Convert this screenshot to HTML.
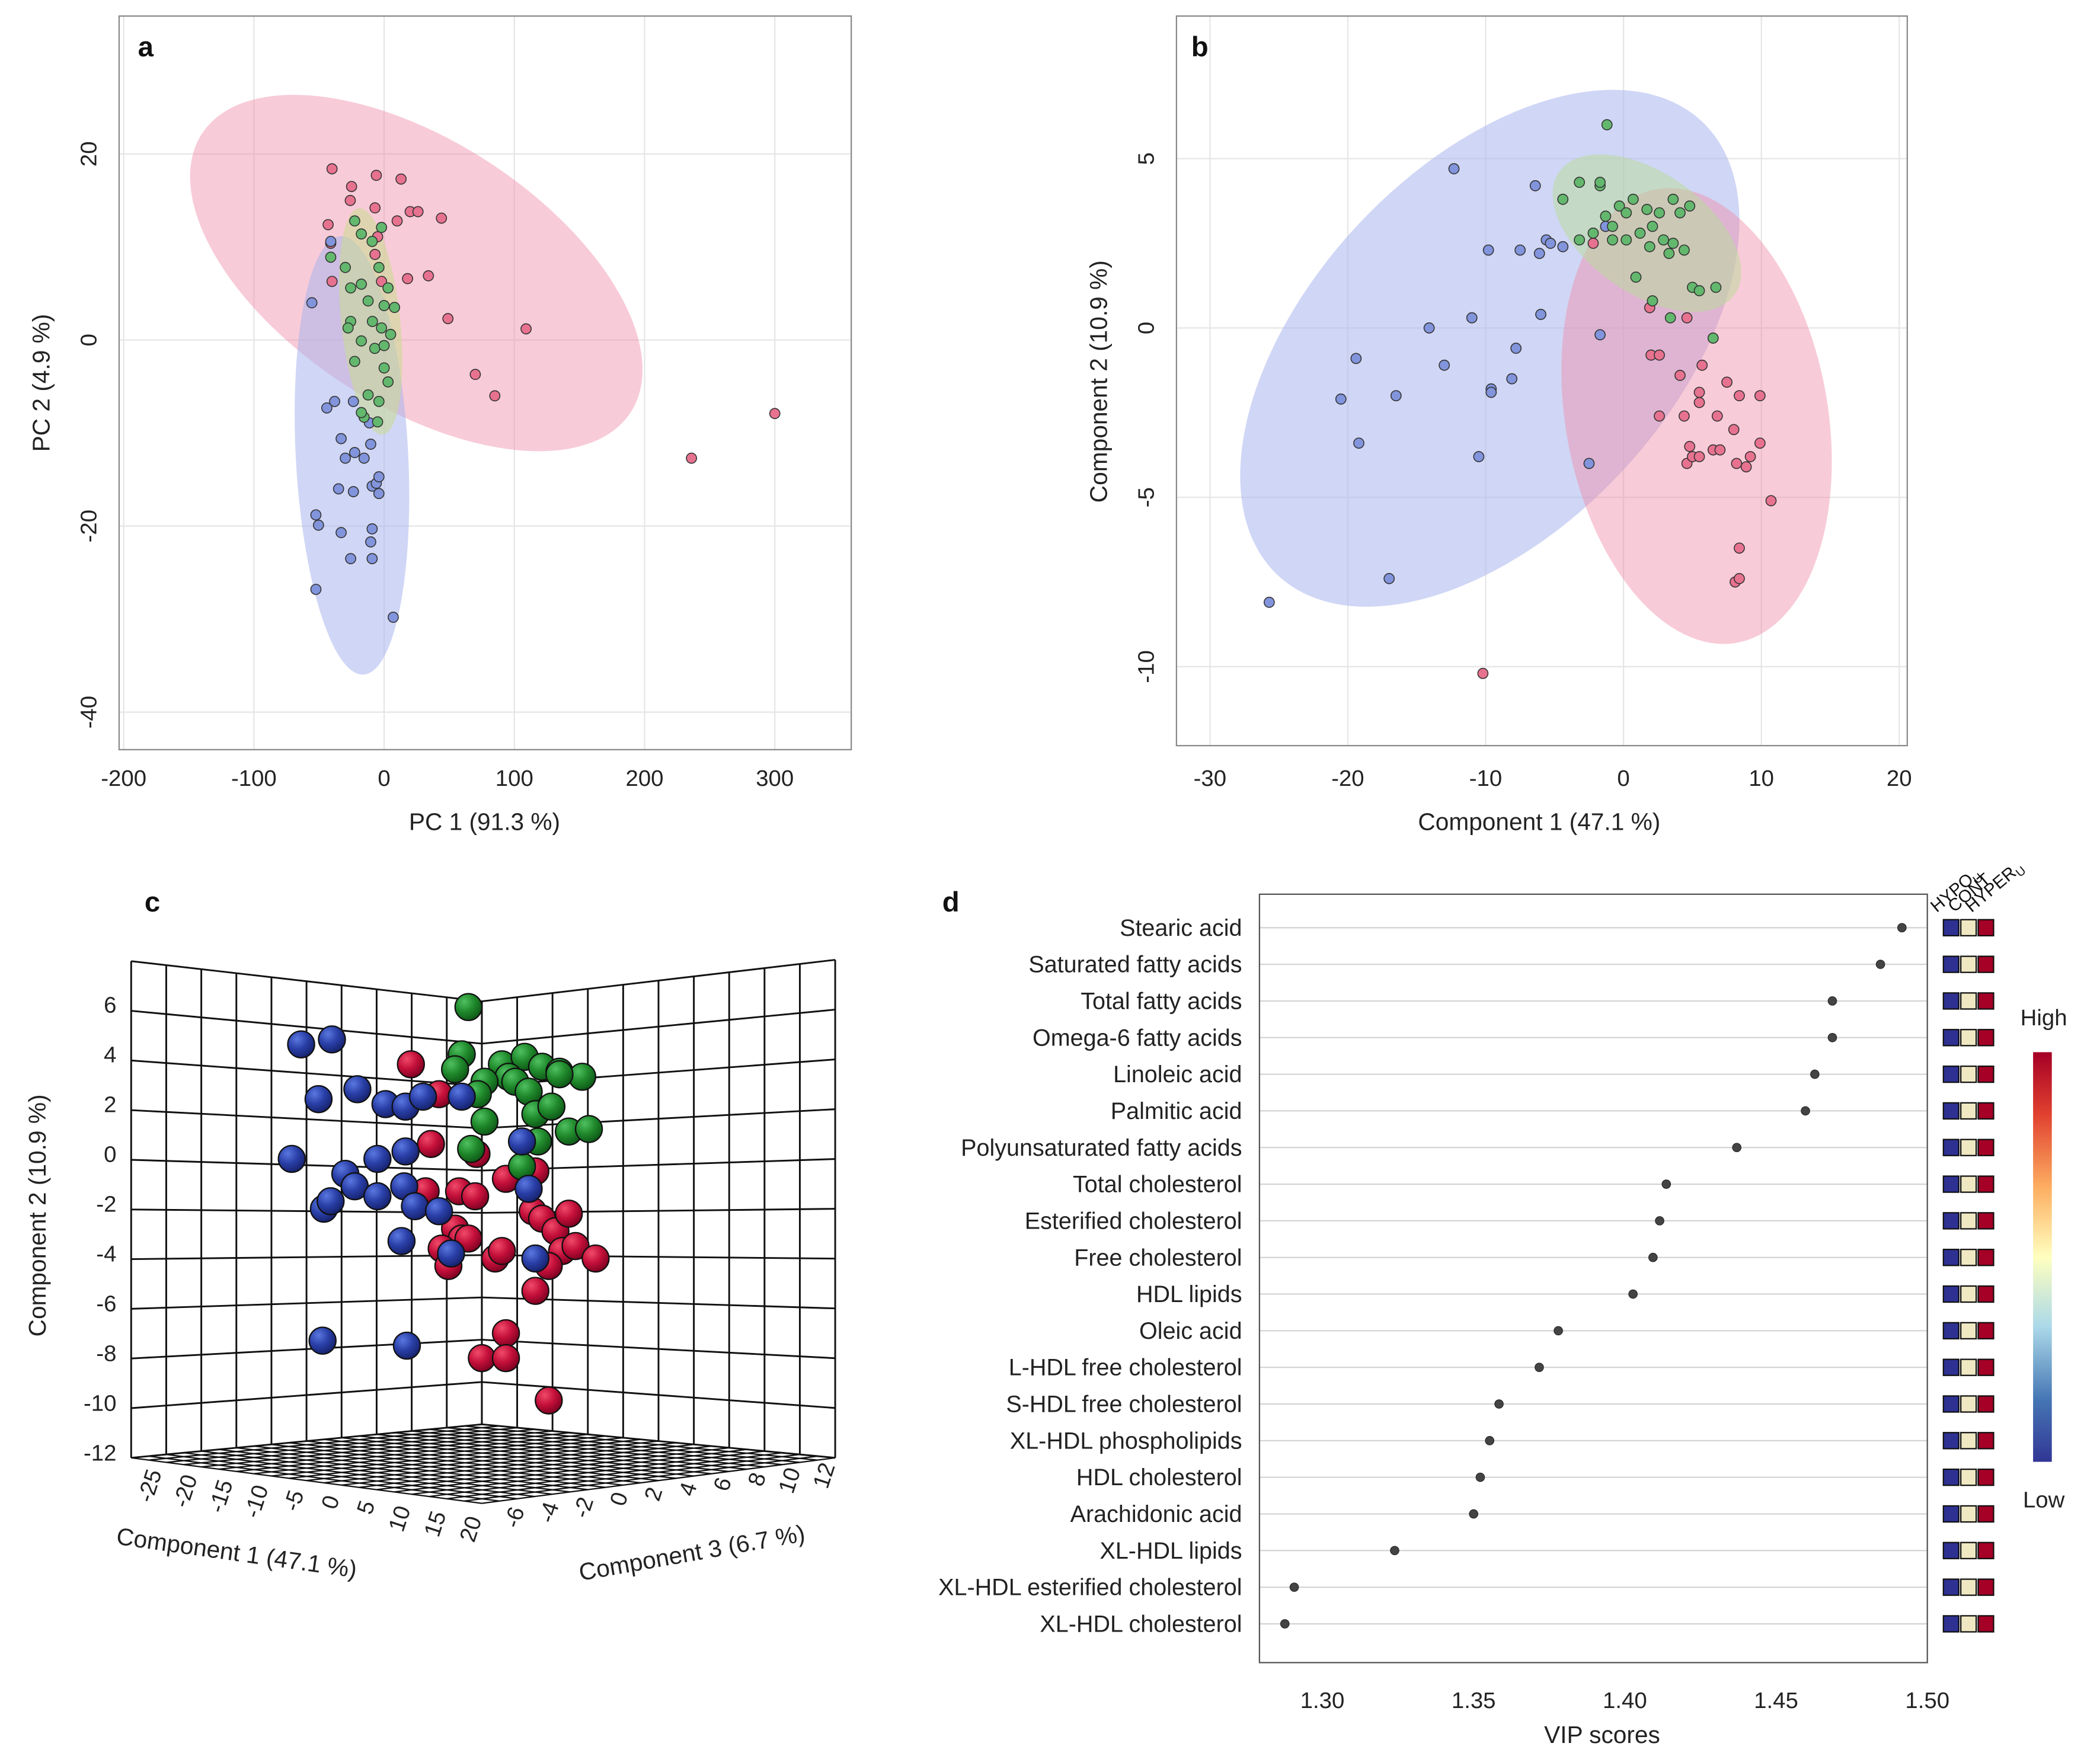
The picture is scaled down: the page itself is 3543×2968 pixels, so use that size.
<!DOCTYPE html>
<html><head><meta charset="utf-8">
<style>
html,body{margin:0;padding:0;background:#fff;}
svg{display:block;font-family:"Liberation Sans",Arial,sans-serif;}
</style></head>
<body>
<svg id="fig" xmlns="http://www.w3.org/2000/svg" width="3543" height="2968" viewBox="0 0 1569 1314" preserveAspectRatio="none">
<defs>
<radialGradient id="gRed" cx="0.35" cy="0.3" r="0.75"><stop offset="0" stop-color="#f04a6a"/><stop offset="0.5" stop-color="#c4103a"/><stop offset="1" stop-color="#7a0020"/></radialGradient>
<radialGradient id="gGreen" cx="0.35" cy="0.3" r="0.75"><stop offset="0" stop-color="#4fc060"/><stop offset="0.5" stop-color="#208a2c"/><stop offset="1" stop-color="#0d5516"/></radialGradient>
<radialGradient id="gBlue" cx="0.35" cy="0.3" r="0.75"><stop offset="0" stop-color="#5a78e0"/><stop offset="0.5" stop-color="#2a40a8"/><stop offset="1" stop-color="#15206a"/></radialGradient>
<linearGradient id="cbar" x1="0" y1="0" x2="0" y2="1">
<stop offset="0" stop-color="#a50026"/><stop offset="0.15" stop-color="#e0402f"/><stop offset="0.33" stop-color="#fdae61"/><stop offset="0.5" stop-color="#ffffbf"/><stop offset="0.67" stop-color="#abd9e9"/><stop offset="0.85" stop-color="#4575b4"/><stop offset="1" stop-color="#313695"/>
</linearGradient>
</defs>
<g id="pa"></g>
<g id="pb"></g>
<g id="pc"></g>
<g id="pd"></g>
</svg>
<script>
// ---------- Panel a data (PCA) ----------
const aPinkX=[-40,-6,13,-25,20,26,44,-7,-26,-43,-5,-7,-41,-40,-2,18,34,49,109,70,85,300,236,10];
const aPinkY=[18.4,17.7,17.3,16.5,13.8,13.8,13.1,14.2,15,12.4,11.1,9.2,10.4,6.3,6.3,6.6,6.9,2.3,1.2,-3.7,-6,-7.9,-12.7,12.8];
const aGreenX=[-22.6,-17.5,-9.2,-2,-41,-25.7,-17.5,-4,3,0,-12.3,-25.7,-27.7,-2,5,-17.5,-7.2,-22.6,0,3,-12.3,-15.4,-4,-5,-17.5,-29.8,8,0,-9];
const aGreenY=[12.8,11.4,10.6,12.1,8.9,5.6,6.0,7.8,5.6,3.7,4.2,2.0,1.3,1.3,0.6,-0.1,-0.9,-2.3,-3.0,-4.5,-5.9,-8.3,-6.6,-8.8,-7.8,7.8,3.5,-0.6,2.0];
const aBlueX=[-55.5,-41,-44,-38,-23.6,-33,-11.3,-22.6,-29.8,-15.4,-10.3,-9.2,-35,-23.6,-6,-4,-52.4,-50.4,-33,-9.2,-10.3,-25.7,-9.2,-52.4,7,-4];
const aBlueY=[4.0,10.6,-7.3,-6.6,-6.6,-10.6,-8.9,-12.1,-12.7,-12.7,-11.2,-15.7,-16,-16.3,-15.4,-16.5,-18.8,-19.9,-20.7,-20.3,-21.7,-23.5,-23.5,-26.8,-29.8,-14.7];
const aXTicks=[-200,-100,0,100,200,300];
const aYTicks=[20,0,-20,-40];
// ---------- Panel b data (PLS-DA) ----------
const bBlueX=[-25.7,-19.4,-20.5,-19.2,-16.5,-17.0,-14.1,-13.0,-11.0,-10.5,-9.6,-9.6,-8.1,-7.8,-9.8,-12.3,-6.4,-7.5,-6.1,-5.6,-5.3,-2.5,-1.7,-6.0,-4.4,-1.3];
const bBlueY=[-8.1,-0.9,-2.1,-3.4,-2.0,-7.4,0.0,-1.1,0.3,-3.8,-1.8,-1.9,-1.5,-0.6,2.3,4.7,4.2,2.3,2.2,2.6,2.5,-4.0,-0.2,0.4,2.4,3.0];
const bRedX=[-10.2,2.0,2.6,4.1,4.4,4.8,5.5,5.5,7.5,8.4,9.9,4.6,5.0,5.5,6.5,7.0,8.2,8.9,9.2,9.9,10.7,6.8,8.0,8.4,8.1,8.4,1.9,4.6,-2.2,5.7,2.6];
const bRedY=[-10.2,-0.8,-2.6,-1.4,-2.6,-3.5,-2.2,-1.9,-1.6,-2.0,-2.0,-4.0,-3.8,-3.8,-3.6,-3.6,-4.0,-4.1,-3.8,-3.4,-5.1,-2.6,-3.0,-6.5,-7.5,-7.4,0.6,0.3,2.5,-1.1,-0.8];
const bGreenX=[-1.2,-3.2,-1.7,-1.7,-4.4,-0.3,0.2,0.7,1.7,2.6,3.6,4.1,4.8,-1.3,-0.8,1.2,2.1,2.9,3.6,4.4,3.3,1.9,0.2,-0.8,0.9,-2.2,-3.2,2.1,3.4,5.0,6.7,6.5,5.5];
const bGreenY=[6.0,4.3,4.2,4.3,3.8,3.6,3.4,3.8,3.5,3.4,3.8,3.4,3.6,3.3,3.0,2.8,3.0,2.6,2.5,2.3,2.2,2.4,2.6,2.6,1.5,2.8,2.6,0.8,0.3,1.2,1.2,-0.3,1.1];
const bXTicks=[-30,-20,-10,0,10,20];
const bYTicks=[5,0,-5,-10];
// ---------- Panel c data (3D scores, projected) ----------
const cRedX=[-5.3,-3.2,-3.8,-0.4,-4.2,-1.7,1.8,4.0,-0.5,-2.0,-1.5,-3.0,-2.5,1.0,1.5,3.8,4.5,5.5,6.5,6.0,7.0,8.5,5.0,4.0,1.8,0.0,1.8,5.0,-1.0];
const cRedY=[3.6,2.4,0.4,0.0,-1.5,-1.5,-1.0,-0.7,-1.7,-3.0,-3.4,-3.8,-4.5,-4.2,-3.9,-2.3,-2.6,-3.1,-2.4,-3.9,-3.7,-4.2,-4.5,-5.5,-7.2,-8.2,-8.2,-9.9,-3.4];
const cGreenX=[-1.0,-1.5,-2.0,1.5,3.2,4.5,5.8,7.5,2.0,2.5,0.2,-0.3,3.5,4.0,5.2,6.5,8.0,0.2,-0.8,3.0,4.2,5.8];
const cGreenY=[5.9,4.0,3.4,3.6,3.9,3.5,3.3,3.1,3.1,2.9,2.9,2.4,2.5,1.6,1.9,0.9,1.0,1.3,0.2,-0.5,0.5,3.2];
const cBlueX=[-13.5,-11.2,-12.2,-9.3,-7.2,-5.7,-4.4,-1.5,-14.2,-10.2,-9.5,-7.8,-7.8,-5.7,-5.8,-5.0,-3.2,-11.8,-11.3,-6.0,-2.3,3.0,3.5,4.0,-11.9,-5.6];
const cBlueY=[4.4,4.6,2.2,2.6,2.0,1.9,2.3,2.3,-0.2,-0.8,-1.3,-1.7,-0.2,0.1,-1.3,-2.1,-2.3,-2.2,-1.9,-3.5,-4.0,0.5,-1.4,-4.2,-7.5,-7.7];
const cYTicks=[6,4,2,0,-2,-4,-6,-8,-10,-12];
const cC1Ticks=[-25,-20,-15,-10,-5,0,5,10,15,20];
const cC3Ticks=[-6,-4,-2,0,2,4,6,8,10,12];
// ---------- Panel d data (VIP) ----------
const dNames=["Stearic acid","Saturated fatty acids","Total fatty acids","Omega-6 fatty acids","Linoleic acid","Palmitic acid","Polyunsaturated fatty acids","Total cholesterol","Esterified cholesterol","Free cholesterol","HDL lipids","Oleic acid","L-HDL free cholesterol","S-HDL free cholesterol","XL-HDL phospholipids","HDL cholesterol","Arachidonic acid","XL-HDL lipids","XL-HDL esterified cholesterol","XL-HDL cholesterol"];
const dVip=[1.4916,1.4845,1.4686,1.4686,1.4628,1.4597,1.437,1.4137,1.4115,1.4093,1.4027,1.378,1.3717,1.3584,1.3553,1.3522,1.35,1.3239,1.2907,1.2876];
const dTicks=[1.30,1.35,1.40,1.45,1.50];

const NS="http://www.w3.org/2000/svg";
function mk(parent,tag,attrs,text){const e=document.createElementNS(NS,tag);for(const k in attrs)e.setAttribute(k,attrs[k]);if(text!==undefined)e.textContent=text;parent.appendChild(e);return e;}

// ===== Panel a =====
(function(){
const g=document.getElementById('pa');
const X=v=>287+v*0.973, Y=v=>254-v*6.95;
const L=89,R=636,T=12,B=560;
for(const t of aXTicks){const l=mk(g,'line',{x1:X(t),x2:X(t),y1:T,y2:B,stroke:'#e6e6e6','stroke-width':1});

}
for(const t of aYTicks){const l=mk(g,'line',{x1:L,x2:R,y1:Y(t),y2:Y(t),stroke:'#e6e6e6','stroke-width':1});

}
const e1=mk(g,'ellipse',{cx:0,cy:0,rx:191,ry:99,fill:'#f08ca8','fill-opacity':0.45,transform:`translate(${X(24.7)},${Y(7.2)}) rotate(33)`});


const e2=mk(g,'ellipse',{cx:0,cy:0,rx:164,ry:42,fill:'#aab4ec','fill-opacity':0.55,transform:`translate(${X(-24.7)},${Y(-12.4)}) rotate(87)`});


const e3=mk(g,'ellipse',{cx:0,cy:0,rx:85,ry:22,fill:'#c8dc90','fill-opacity':0.55,transform:`translate(${X(-10.3)},${Y(2.0)}) rotate(84)`});


const sets=[[aPinkX,aPinkY,'#e7728f','hyper-point'],[aBlueX,aBlueY,'#8194dc','hypo-point'],[aGreenX,aGreenY,'#63b86e','control-point']];
for(const [xs,ys,c,n] of sets){for(let i=0;i<xs.length;i++){const p=mk(g,'circle',{cx:X(xs[i]),cy:Y(ys[i]),r:3.8,fill:c,stroke:'#333','stroke-width':0.7});

}}
const fr=mk(g,'rect',{x:L,y:T,width:R-L,height:B-T,fill:'none',stroke:'#8a8a8a','stroke-width':1});


for(const t of aXTicks){const tx=mk(g,'text',{x:X(t),y:587,'font-size':17,'text-anchor':'middle',fill:'#222'},String(t));

}
for(const t of aYTicks){const tx=mk(g,'text',{x:0,y:0,'font-size':17,'text-anchor':'middle',fill:'#222',transform:`translate(72,${Y(t)}) rotate(-90)`},String(t));

}
const xt=mk(g,'text',{x:362,y:620,'font-size':18,'text-anchor':'middle',fill:'#222'},'PC 1 (91.3 %)');


const yt=mk(g,'text',{x:0,y:0,'font-size':18,'text-anchor':'middle',fill:'#222',transform:'translate(37,286) rotate(-90)'},'PC 2 (4.9 %)');


const lb=mk(g,'text',{x:103,y:42,'font-size':21,'font-weight':'bold',fill:'#111'},'a');


})();

// ===== Panel b =====
(function(){
const g=document.getElementById('pb');
const X=v=>1213+v*10.3, Y=v=>245-v*25.3;
const L=879,R=1425,T=12,B=557;
for(const t of bXTicks){const l=mk(g,'line',{x1:X(t),x2:X(t),y1:T,y2:B,stroke:'#e6e6e6','stroke-width':1});

}
for(const t of bYTicks){const l=mk(g,'line',{x1:L,x2:R,y1:Y(t),y2:Y(t),stroke:'#e6e6e6','stroke-width':1});

}
const e1=mk(g,'ellipse',{cx:0,cy:0,rx:232,ry:135,fill:'#aab4ec','fill-opacity':0.55,transform:`translate(${X(-9.7)},${Y(-0.6)}) rotate(-47)`});


const e2=mk(g,'ellipse',{cx:0,cy:0,rx:172,ry:98,fill:'#f08ca8','fill-opacity':0.45,transform:`translate(${X(5.3)},${Y(-2.6)}) rotate(80)`});


const e3=mk(g,'ellipse',{cx:0,cy:0,rx:80,ry:45,fill:'#b8dc98','fill-opacity':0.5,transform:`translate(${X(1.7)},${Y(2.8)}) rotate(35)`});


const sets=[[bBlueX,bBlueY,'#8194dc','hypo-point'],[bRedX,bRedY,'#e7728f','hyper-point'],[bGreenX,bGreenY,'#63b86e','control-point']];
for(const [xs,ys,c,n] of sets){for(let i=0;i<xs.length;i++){const p=mk(g,'circle',{cx:X(xs[i]),cy:Y(ys[i]),r:3.8,fill:c,stroke:'#333','stroke-width':0.7});

}}
const fr=mk(g,'rect',{x:L,y:T,width:R-L,height:B-T,fill:'none',stroke:'#8a8a8a','stroke-width':1});


for(const t of bXTicks){const tx=mk(g,'text',{x:X(t),y:587,'font-size':17,'text-anchor':'middle',fill:'#222'},String(t));

}
for(const t of bYTicks){const tx=mk(g,'text',{x:0,y:0,'font-size':17,'text-anchor':'middle',fill:'#222',transform:`translate(862,${Y(t)}) rotate(-90)`},String(t));

}
const xt=mk(g,'text',{x:1150,y:620,'font-size':18,'text-anchor':'middle',fill:'#222'},'Component 1 (47.1 %)');


const yt=mk(g,'text',{x:0,y:0,'font-size':18,'text-anchor':'middle',fill:'#222',transform:'translate(827,285) rotate(-90)'},'Component 2 (10.9 %)');


const lb=mk(g,'text',{x:890,y:42,'font-size':21,'font-weight':'bold',fill:'#111'},'b');


})();

// ===== Panel c =====
(function(){
const g=document.getElementById('pc');
const X=v=>360+v*10, Y=v=>862-v*18.6;
const lerp=(a,b,t)=>a+(b-a)*t;
const TL=[98,718],TC=[360,748],TR=[624,717],BL=[98,1089],BC=[360,1064],BR=[624,1089],FF=[360,1123];
const st={stroke:'#111','stroke-width':1.3,fill:'none'};
for(let i=0;i<=10;i++){const t=i/10;
const l=mk(g,'line',{x1:lerp(TL[0],TC[0],t),y1:lerp(TL[1],TC[1],t),x2:lerp(BL[0],BC[0],t),y2:lerp(BL[1],BC[1],t),...st});


const h=mk(g,'line',{x1:TL[0],y1:lerp(TL[1],BL[1],t),x2:TC[0],y2:lerp(TC[1],BC[1],t),...st});


const l2=mk(g,'line',{x1:lerp(TC[0],TR[0],t),y1:lerp(TC[1],TR[1],t),x2:lerp(BC[0],BR[0],t),y2:lerp(BC[1],BR[1],t),...st});


const h2=mk(g,'line',{x1:TC[0],y1:lerp(TC[1],BC[1],t),x2:TR[0],y2:lerp(TR[1],BR[1],t),...st});

}
for(let i=0;i<=20;i++){const t=i/20;
const f1=mk(g,'line',{x1:lerp(BL[0],FF[0],t),y1:lerp(BL[1],FF[1],t),x2:lerp(BC[0],BR[0],t),y2:lerp(BC[1],BR[1],t),stroke:'#111','stroke-width':1,fill:'none'});


const f2=mk(g,'line',{x1:lerp(BL[0],BC[0],t),y1:lerp(BL[1],BC[1],t),x2:lerp(FF[0],BR[0],t),y2:lerp(FF[1],BR[1],t),stroke:'#111','stroke-width':1,fill:'none'});

}
const sets=[[cRedX,cRedY,'url(#gRed)','hyper-sphere'],[cGreenX,cGreenY,'url(#gGreen)','control-sphere'],[cBlueX,cBlueY,'url(#gBlue)','hypo-sphere']];
for(const [xs,ys,c,n] of sets){for(let i=0;i<xs.length;i++){const p=mk(g,'circle',{cx:X(xs[i]),cy:Y(ys[i]),r:10,fill:c,stroke:'#111','stroke-width':1});

}}
cYTicks.forEach((t,i)=>{const tx=mk(g,'text',{x:87,y:Y(t)+6,'font-size':17,'text-anchor':'end',fill:'#222'},String(t));

});
cC1Ticks.forEach((t,i)=>{const k=i/(cC1Ticks.length-1);const x=lerp(115,354,k),y=lerp(1100,1135,k);
const tx=mk(g,'text',{x:0,y:0,'font-size':17,'text-anchor':'end',fill:'#222',transform:`translate(${x+6},${y}) rotate(-72)`},String(t));

});
cC3Ticks.forEach((t,i)=>{const k=i/(cC3Ticks.length-1);const x=lerp(386,618,k),y=lerp(1128,1095,k);
const tx=mk(g,'text',{x:0,y:0,'font-size':17,'text-anchor':'end',fill:'#222',transform:`translate(${x+6},${y}) rotate(-72)`},String(t));

});
const a1=mk(g,'text',{x:0,y:0,'font-size':18,'text-anchor':'middle',fill:'#222',transform:'translate(176,1166) rotate(8)'},'Component 1 (47.1 %)');


const a3=mk(g,'text',{x:0,y:0,'font-size':18,'text-anchor':'middle',fill:'#222',transform:'translate(518,1166) rotate(-10)'},'Component 3 (6.7 %)');


const a2=mk(g,'text',{x:0,y:0,'font-size':18,'text-anchor':'middle',fill:'#222',transform:'translate(34,908) rotate(-90)'},'Component 2 (10.9 %)');


const lb=mk(g,'text',{x:108,y:681,'font-size':21,'font-weight':'bold',fill:'#111'},'c');


})();

// ===== Panel d =====
(function(){
const g=document.getElementById('pd');
const X=v=>988+(v-1.30)*2260;
const rowY=i=>693+i*27.37;
const L=941,R=1440,T=668,B=1242;
dNames.forEach((n,i)=>{const l=mk(g,'line',{x1:L,x2:R,y1:rowY(i),y2:rowY(i),stroke:'#d4d4d4','stroke-width':1});

});
const fr=mk(g,'rect',{x:L,y:T,width:R-L,height:B-T,fill:'none',stroke:'#555','stroke-width':1});


dNames.forEach((n,i)=>{
const tx=mk(g,'text',{x:928,y:rowY(i)+6,'font-size':17.5,'text-anchor':'end',fill:'#222'},n);


const p=mk(g,'circle',{cx:X(dVip[i]),cy:rowY(i),r:3.2,fill:'#444',stroke:'#222','stroke-width':0.5});


const cols=['#2e3192','#efe8c2','#a50026'];
cols.forEach((c,j)=>{const r=mk(g,'rect',{x:1452+j*13,y:rowY(i)-6,width:11.5,height:12,fill:c,stroke:'#111','stroke-width':1});

});
});
for(const t of dTicks){const tx=mk(g,'text',{x:X(t),y:1276,'font-size':17,'text-anchor':'middle',fill:'#222'},t.toFixed(2));

}
const xt=mk(g,'text',{x:1197,y:1302,'font-size':18,'text-anchor':'middle',fill:'#222'},'VIP scores');


const hdr=[['HYPO','U',1447],['CONT','',1460],['HYPER','U',1473]];
hdr.forEach(h=>{const tx=mk(g,'text',{x:0,y:0,'font-size':13,fill:'#111',transform:`translate(${h[2]},682) rotate(-40)`},h[0]);
if(h[1]){const s=mk(tx,'tspan',{'font-size':9,dy:3},h[1]);}

});
const cb=mk(g,'rect',{x:1519,y:786,width:14,height:306,fill:'url(#cbar)'});


const hi=mk(g,'text',{x:1527,y:766,'font-size':17,'text-anchor':'middle',fill:'#222'},'High');


const lo=mk(g,'text',{x:1527,y:1126,'font-size':17,'text-anchor':'middle',fill:'#222'},'Low');


const lb=mk(g,'text',{x:704,y:681,'font-size':21,'font-weight':'bold',fill:'#111'},'d');


})();
</script>
</body></html>
